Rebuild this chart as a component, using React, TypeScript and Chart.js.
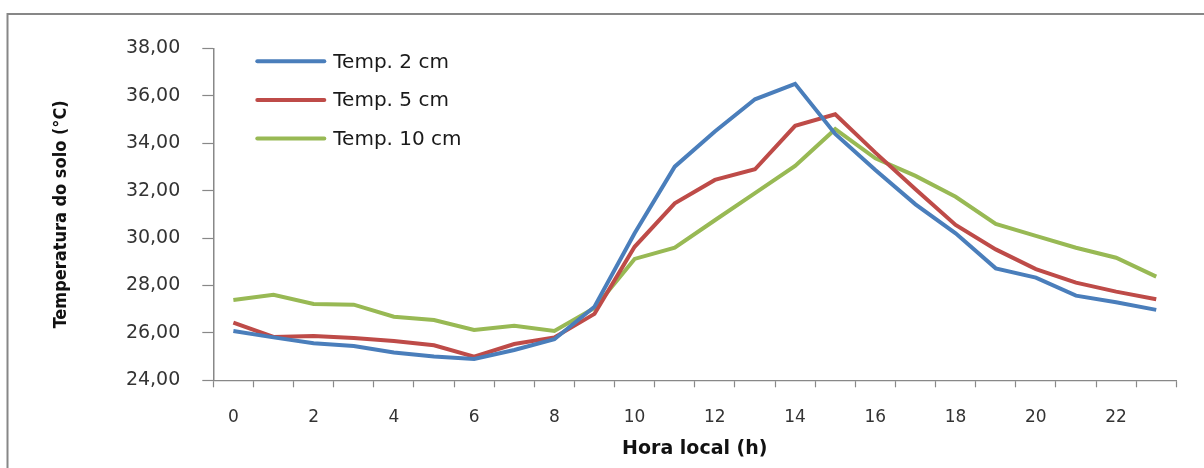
import React, { useEffect, useRef } from "react";
import { Chart, registerables } from "chart.js";

Chart.register(...registerables);

const hours = [0, 1, 2, 3, 4, 5, 6, 7, 8, 9, 10, 11, 12, 13, 14, 15, 16, 17, 18, 19, 20, 21, 22, 23];

const temp2cm = [26.08, 25.81, 25.56, 25.45, 25.17, 25.0, 24.9, 25.28, 25.73, 27.1, 30.2, 33.01, 34.49, 35.85, 36.5, 34.39, 32.87, 31.42, 30.2, 28.72, 28.33, 27.57, 27.29, 26.97];
const temp5cm = [26.43, 25.83, 25.87, 25.78, 25.66, 25.48, 25.0, 25.53, 25.81, 26.8, 29.63, 31.46, 32.45, 32.9, 34.73, 35.22, 33.6, 32.06, 30.55, 29.52, 28.69, 28.12, 27.74, 27.42];
const temp10cm = [27.39, 27.61, 27.22, 27.19, 26.68, 26.54, 26.12, 26.3, 26.08, 27.05, 29.12, 29.59, 30.75, 31.89, 33.04, 34.59, 33.36, 32.62, 31.74, 30.59, 30.09, 29.59, 29.17, 28.37];

const seriesLabels = ["Temp. 2 cm", "Temp. 5 cm", "Temp. 10 cm"];
const seriesColors = ["#4A7EBB", "#BE4B48", "#98B954"];

const yMin = 24;
const yMax = 38;
const yStep = 2;
const yTitle = "Temperatura do solo (°C)";
const xTitle = "Hora local (h)";

const FONT = '"DejaVu Sans", Verdana, sans-serif';
const NARROW = '"Liberation Sans Narrow", "DejaVu Sans Condensed", "Arial Narrow", sans-serif';

const framePlugin = {
  id: "frame",
  beforeDraw(chart: any) {
    const ctx = chart.ctx;
    ctx.save();
    ctx.fillStyle = "#ffffff";
    ctx.fillRect(0, 0, chart.width, chart.height);
    ctx.strokeStyle = "#878787";
    ctx.lineWidth = 2;
    ctx.beginPath();
    ctx.moveTo(7.5, chart.height);
    ctx.lineTo(7.5, 14);
    ctx.lineTo(chart.width, 14);
    ctx.stroke();
    ctx.restore();
  },
};

const legendPlugin = {
  id: "insideLegend",
  afterDraw(chart: any) {
    const ctx = chart.ctx;
    const area = chart.chartArea;
    const x0 = area.left + 44;
    const y0 = area.top + 13;
    const gap = 38.6;
    ctx.save();
    chart.data.datasets.forEach((ds: any, i: number) => {
      const y = y0 + i * gap;
      ctx.strokeStyle = ds.borderColor;
      ctx.lineWidth = 4;
      ctx.lineCap = "round";
      ctx.beginPath();
      ctx.moveTo(x0, y);
      ctx.lineTo(x0 + 67, y);
      ctx.stroke();
      ctx.fillStyle = "#1a1a1a";
      ctx.font = `20px ${FONT}`;
      ctx.textAlign = "left";
      ctx.textBaseline = "middle";
      ctx.fillText(ds.label, x0 + 76, y + 1);
    });
    ctx.restore();
  },
};

export default function App() {
  const canvasRef = useRef<HTMLCanvasElement | null>(null);

  useEffect(() => {
    if (!canvasRef.current) return;
    const series = [temp2cm, temp5cm, temp10cm];
    const chart = new Chart(canvasRef.current, {
      type: "line",
      data: {
        labels: hours.map(String),
        datasets: series.map((data, i) => ({
          label: seriesLabels[i],
          data,
          borderColor: seriesColors[i],
          backgroundColor: seriesColors[i],
          borderWidth: 4,
          pointRadius: 0,
          pointHoverRadius: 0,
          tension: 0,
          fill: false,
        })),
      },
      options: {
        animation: false,
        responsive: true,
        maintainAspectRatio: false,
        layout: { padding: { left: 0, right: 27.7, top: 48.3, bottom: 0 } },
        plugins: {
          legend: { display: false },
          tooltip: { enabled: false },
        },
        scales: {
          x: {
            type: "category",
            offset: true,
            afterFit(scale: any) {
              scale.height = 87.7;
            },
            border: { display: true, color: "#888888", width: 1.2 },
            grid: {
              display: true,
              offset: true,
              drawOnChartArea: false,
              drawTicks: true,
              tickLength: 7,
              tickColor: "#888888",
              tickWidth: 1.2,
            },
            ticks: {
              autoSkip: false,
              maxRotation: 0,
              padding: 20,
              color: "#333333",
              font: { family: FONT, size: 17 },
              callback: (_v: any, idx: number) => (idx % 2 === 0 ? String(hours[idx]) : ""),
            },
            title: {
              display: true,
              text: xTitle,
              color: "#111111",
              font: { family: FONT, size: 19, weight: "bold" },
              padding: { top: 0, bottom: 8 },
            },
          },
          y: {
            min: yMin,
            max: yMax,
            afterFit(scale: any) {
              scale.width = 213.3;
            },
            border: { display: true, color: "#888888", width: 1.5 },
            grid: {
              display: true,
              drawOnChartArea: false,
              drawTicks: true,
              tickLength: 11,
              tickColor: "#888888",
              tickWidth: 1.2,
            },
            ticks: {
              stepSize: yStep,
              padding: 22,
              color: "#333333",
              font: { family: FONT, size: 19 },
              callback: (v: any) => Number(v).toFixed(2).replace(".", ","),
            },
            title: {
              display: true,
              text: yTitle,
              color: "#111111",
              font: { family: NARROW, size: 18, weight: "bold" },
              padding: { top: 51, bottom: 0 },
            },
          },
        },
      },
      plugins: [framePlugin, legendPlugin],
    });
    return () => chart.destroy();
  }, []);

  return (
    <div style={{ position: "fixed", left: 0, top: 0, width: 1204, height: 468, background: "#fff" }}>
      <canvas ref={canvasRef} />
    </div>
  );
}
